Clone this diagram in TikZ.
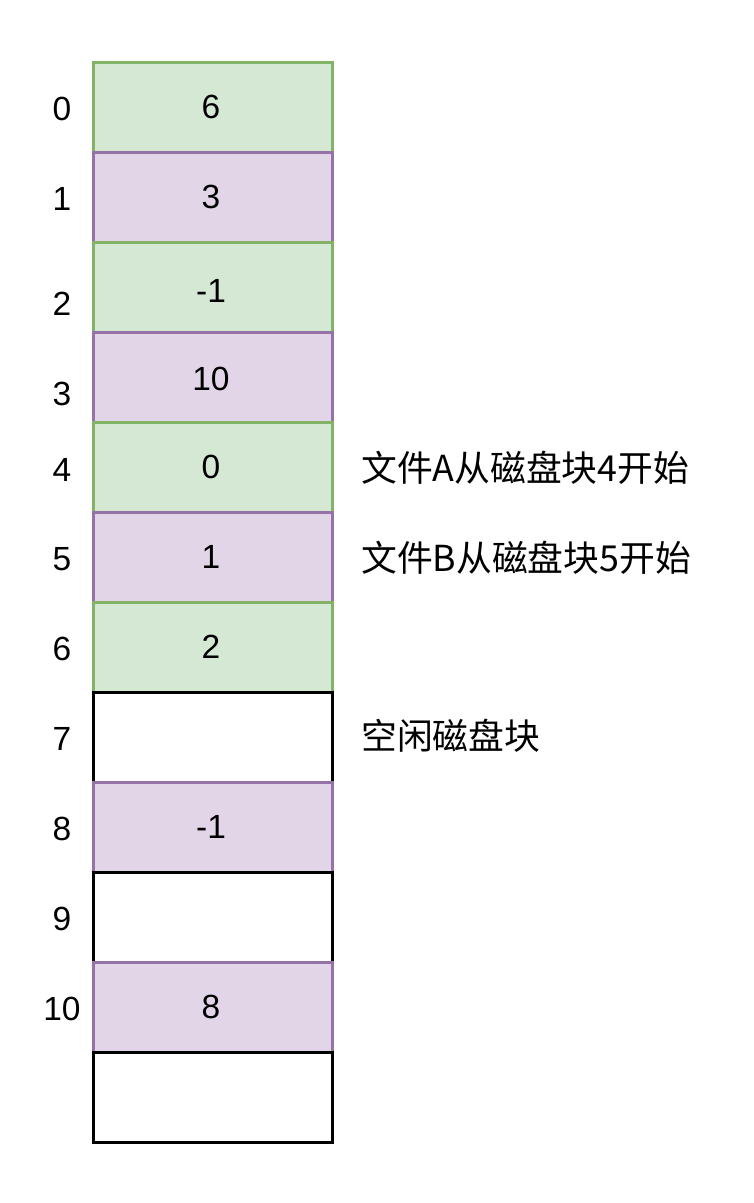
\documentclass[tikz,border=0pt]{standalone}
\usepackage{fontspec}
\setmainfont{Liberation Sans}
\newfontfamily\cjk{Noto Sans CJK SC}
\definecolor{gfill}{HTML}{D5E8D4}
\definecolor{gdraw}{HTML}{82B366}
\definecolor{pfill}{HTML}{E1D5E7}
\definecolor{pdraw}{HTML}{9673A6}
\begin{document}
\begin{tikzpicture}[x=1pt,y=-1pt,
  cell/.style={draw,line width=2.5pt,minimum width=239pt,minimum height=90pt,inner sep=0pt,anchor=north west},
  gcell/.style={cell,fill=gfill,draw=gdraw},
  pcell/.style={cell,fill=pfill,draw=pdraw},
  wcell/.style={cell,fill=white,draw=black},
  num/.style={inner sep=0pt,anchor=base,font=\fontsize{33.5}{40}\selectfont},
  note/.style={inner sep=0pt,anchor=base west,font=\cjk\fontsize{35.8}{42}\selectfont}]
\useasboundingbox (0,0) rectangle (753,1203);
% cells
\node[gcell] (c0) at (92,61) {};
\node[pcell] (c1) at (92,151) {};
\node[gcell] (c2) at (92,241) {};
\node[pcell] (c3) at (92,331) {};
\node[gcell] (c4) at (92,421) {};
\node[pcell] (c5) at (92,511) {};
\node[gcell] (c6) at (92,601) {};
\node[wcell] (c7) at (92,691) {};
\node[pcell] (c8) at (92,781) {};
\node[wcell] (c9) at (92,871) {};
\node[pcell] (c10) at (92,961) {};
\node[wcell] (c11) at (92,1051) {};
% values
\node[num] (v0) at (211,118) {6};
\node[num] (v1) at (211,208) {3};
\node[num] (v2) at (211,302) {-1};
\node[num] (v3) at (211,390) {10};
\node[num] (v4) at (211,478) {0};
\node[num] (v5) at (211,568) {1};
\node[num] (v6) at (211,658) {2};
\node[num] (v8) at (211,838) {-1};
\node[num] (v10) at (211,1018) {8};
% row indices
\node[num] (l0) at (62,120) {0};
\node[num] (l1) at (62,210) {1};
\node[num] (l2) at (62,315) {2};
\node[num] (l3) at (62,405) {3};
\node[num] (l4) at (62,481) {4};
\node[num] (l5) at (62,570) {5};
\node[num] (l6) at (62,660) {6};
\node[num] (l7) at (62,750) {7};
\node[num] (l8) at (62,840) {8};
\node[num] (l9) at (62,930) {9};
\node[num] (l10) at (62,1020) {10};
% notes
\node[note] (nA) at (361,481) {文件A从磁盘块4开始};
\node[note] (nB) at (361,571) {文件B从磁盘块5开始};
\node[note] (nF) at (361,749) {空闲磁盘块};
\end{tikzpicture}
\end{document}
